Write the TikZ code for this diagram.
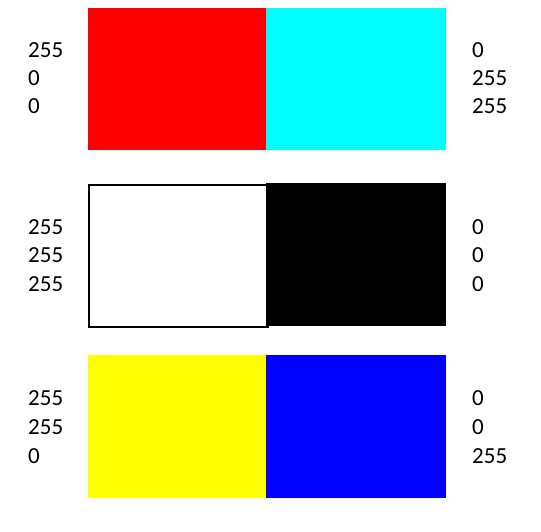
\documentclass[tikz,border=0pt]{standalone}
\usepackage{fontspec}
\setmainfont{Carlito}
\definecolor{cRed}{RGB}{255,0,0}
\definecolor{cCyan}{RGB}{0,255,255}
\definecolor{cYellow}{RGB}{255,255,0}
\definecolor{cBlue}{RGB}{0,0,255}
\begin{document}
\begin{tikzpicture}[x=1pt,y=-1pt,
  val/.style={anchor=base west,inner sep=0pt,font=\fontsize{23}{28}\selectfont}]
\useasboundingbox (0,0) rectangle (541,532);
% row 1
\fill[cRed] (88,8) rectangle (265.5,150);
\fill[cCyan] (265.5,8) rectangle (446,150);
% row 2
\draw[black,line width=2pt,fill=white] (88.5,185.5) rectangle (268,326.8);
\fill[black] (265.5,183) rectangle (446,326);
% row 3
\fill[cYellow] (88,355) rectangle (265.5,498);
\fill[cBlue] (265.5,355) rectangle (446,498);
% left values
\node[val] (l11) at (28,58) {255};
\node[val] (l12) at (28,86) {0};
\node[val] (l13) at (28,114) {0};
\node[val] (l21) at (28,234) {255};
\node[val] (l22) at (28,262) {255};
\node[val] (l23) at (28,291) {255};
\node[val] (l31) at (28,405) {255};
\node[val] (l32) at (28,434) {255};
\node[val] (l33) at (28,463) {0};
% right values
\node[val] (r11) at (472,58) {0};
\node[val] (r12) at (472,86) {255};
\node[val] (r13) at (472,114) {255};
\node[val] (r21) at (472,234) {0};
\node[val] (r22) at (472,262) {0};
\node[val] (r23) at (472,291) {0};
\node[val] (r31) at (472,405) {0};
\node[val] (r32) at (472,434) {0};
\node[val] (r33) at (472,463) {255};
\end{tikzpicture}
\end{document}
